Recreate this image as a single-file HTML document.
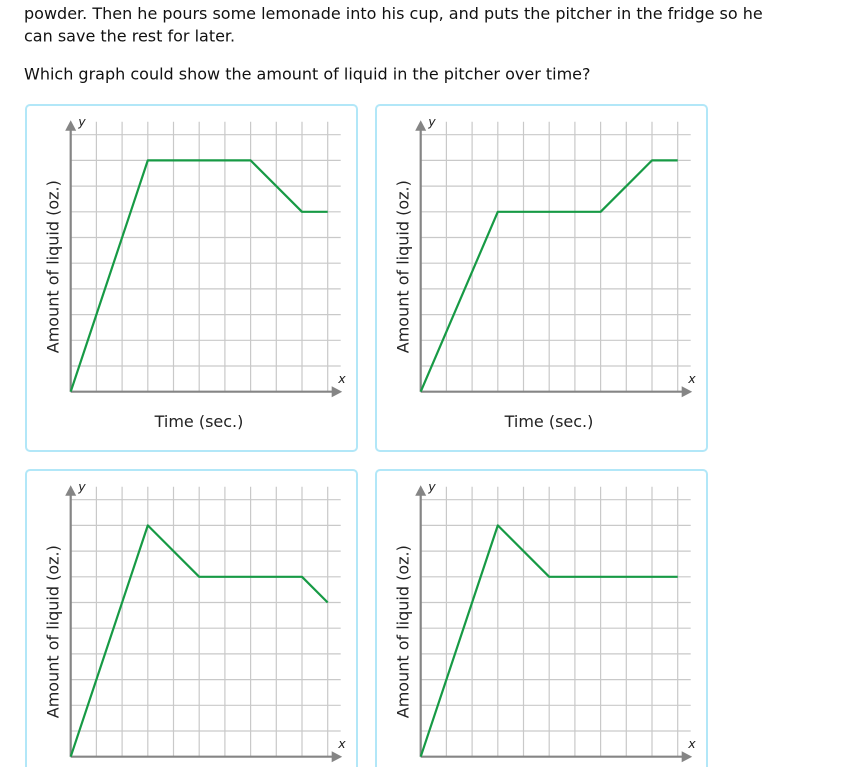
<!DOCTYPE html>
<html><head><meta charset="utf-8"><style>
html,body{margin:0;padding:0;background:#fff;width:845px;height:767px;overflow:hidden}
svg{display:block}
</style></head><body>
<svg width="845" height="767" viewBox="0 0 845 767" xmlns="http://www.w3.org/2000/svg" font-family="'DejaVu Sans','Liberation Sans',sans-serif">
<defs>
<g id="grid">
<path d="M25.7 -270V0M51.4 -270V0M77.1 -270V0M102.8 -270V0M128.5 -270V0M154.2 -270V0M179.9 -270V0M205.6 -270V0M231.3 -270V0M257 -270V0M0 -25.7H270M0 -51.4H270M0 -77.1H270M0 -102.8H270M0 -128.5H270M0 -154.2H270M0 -179.9H270M0 -205.6H270M0 -231.3H270M0 -257H270" stroke="#c9c9c9" stroke-width="1.2" fill="none"/>
<path d="M0 0H262M0 0V-262" stroke="#858585" stroke-width="2.2" fill="none"/>
<polygon points="261,-5.5 271.5,0 261,5.5" fill="#858585"/>
<polygon points="-5.5,-261 0,-271.5 5.5,-261" fill="#858585"/>
</g>
</defs>
<g fill="#111" font-size="16">
<text x="24" y="19">powder. Then he pours some lemonade into his cup, and puts the pitcher in the fridge so he</text>
<text x="24" y="41.5">can save the rest for later.</text>
<text x="24" y="79.5">Which graph could show the amount of liquid in the pitcher over time?</text>
</g>
<g fill="none" stroke="#b2e7f8" stroke-width="2">
<rect x="26" y="105" width="331" height="346" rx="4"/>
<rect x="376" y="105" width="331" height="346" rx="4"/>
<rect x="26" y="470" width="331" height="346" rx="4"/>
<rect x="376" y="470" width="331" height="346" rx="4"/>
</g>

<g transform="translate(70.7,391.7)">
<use href="#grid"/>
<polyline points="0,0 77.1,-231.3 179.9,-231.3 231.3,-179.9 257,-179.9" fill="none" stroke="#179a45" stroke-width="2.2" stroke-linejoin="round"/>
<text x="7.5" y="-265.5" font-size="12.5" font-style="italic" fill="#222">y</text>
<text x="267.5" y="-8.7" font-size="12.5" font-style="italic" fill="#222">x</text>
<text x="128.3" y="35.3" font-size="16" text-anchor="middle" fill="#222">Time (sec.)</text>
<text transform="translate(-12,-125) rotate(-90)" font-size="16" text-anchor="middle" fill="#222">Amount of liquid (oz.)</text>
</g>

<g transform="translate(420.7,391.7)">
<use href="#grid"/>
<polyline points="0,0 77.1,-179.9 179.9,-179.9 231.3,-231.3 257,-231.3" fill="none" stroke="#179a45" stroke-width="2.2" stroke-linejoin="round"/>
<text x="7.5" y="-265.5" font-size="12.5" font-style="italic" fill="#222">y</text>
<text x="267.5" y="-8.7" font-size="12.5" font-style="italic" fill="#222">x</text>
<text x="128.3" y="35.3" font-size="16" text-anchor="middle" fill="#222">Time (sec.)</text>
<text transform="translate(-12,-125) rotate(-90)" font-size="16" text-anchor="middle" fill="#222">Amount of liquid (oz.)</text>
</g>

<g transform="translate(70.7,756.7)">
<use href="#grid"/>
<polyline points="0,0 77.1,-231.3 128.5,-179.9 231.3,-179.9 257,-154.2" fill="none" stroke="#179a45" stroke-width="2.2" stroke-linejoin="round"/>
<text x="7.5" y="-265.5" font-size="12.5" font-style="italic" fill="#222">y</text>
<text x="267.5" y="-8.7" font-size="12.5" font-style="italic" fill="#222">x</text>
<text x="128.3" y="35.3" font-size="16" text-anchor="middle" fill="#222">Time (sec.)</text>
<text transform="translate(-12,-125) rotate(-90)" font-size="16" text-anchor="middle" fill="#222">Amount of liquid (oz.)</text>
</g>

<g transform="translate(420.7,756.7)">
<use href="#grid"/>
<polyline points="0,0 77.1,-231.3 128.5,-179.9 257,-179.9" fill="none" stroke="#179a45" stroke-width="2.2" stroke-linejoin="round"/>
<text x="7.5" y="-265.5" font-size="12.5" font-style="italic" fill="#222">y</text>
<text x="267.5" y="-8.7" font-size="12.5" font-style="italic" fill="#222">x</text>
<text x="128.3" y="35.3" font-size="16" text-anchor="middle" fill="#222">Time (sec.)</text>
<text transform="translate(-12,-125) rotate(-90)" font-size="16" text-anchor="middle" fill="#222">Amount of liquid (oz.)</text>
</g>
</svg>
</body></html>
